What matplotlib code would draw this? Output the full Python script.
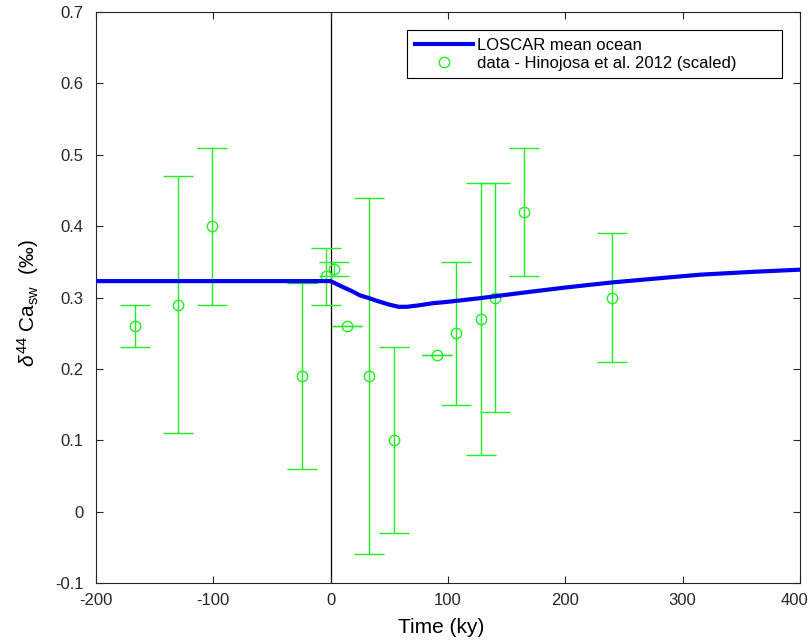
import matplotlib
matplotlib.use("Agg")
import matplotlib.pyplot as plt
import matplotlib.transforms as mtransforms
from matplotlib.lines import Line2D

plt.rcParams['font.family'] = ['Liberation Sans', 'DejaVu Sans']
plt.rcParams['axes.unicode_minus'] = False
plt.rcParams['mathtext.fontset'] = 'custom'
plt.rcParams['mathtext.rm'] = 'Liberation Sans'
plt.rcParams['mathtext.it'] = 'Liberation Sans:italic'

# LOSCAR mean ocean
model_t = [-200, -100, 0, 5, 10, 18, 25, 33, 40, 50, 58, 65, 75, 87, 100, 127, 165, 200, 239, 280, 315, 360, 400]
model_d44 = [0.323, 0.323, 0.323, 0.319, 0.315, 0.309, 0.303, 0.299, 0.295, 0.290, 0.287, 0.287, 0.289, 0.292, 0.294, 0.299, 0.307, 0.314, 0.321, 0.327, 0.332, 0.336, 0.339]

# Hinojosa et al. 2012 data (scaled)
data_t = [-167, -130, -101, -24, -4, 3, 14, 33, 54, 91, 107, 128, 140, 165, 240]
data_d44 = [0.26, 0.29, 0.40, 0.19, 0.33, 0.34, 0.26, 0.19, 0.10, 0.22, 0.25, 0.27, 0.30, 0.42, 0.30]
data_lo = [0.23, 0.11, 0.29, 0.06, 0.29, 0.33, 0.26, -0.06, -0.03, 0.22, 0.15, 0.08, 0.14, 0.33, 0.21]
data_hi = [0.29, 0.47, 0.51, 0.32, 0.37, 0.35, 0.26, 0.44, 0.23, 0.22, 0.35, 0.46, 0.46, 0.51, 0.39]

err_low = [d - lo for d, lo in zip(data_d44, data_lo)]
err_high = [hi - d for d, hi in zip(data_d44, data_hi)]

green = '#22ee22'

fig = plt.figure(figsize=(8.12, 6.43), dpi=100)
ax = fig.add_axes([0.1182, 0.0933, 0.867, 0.888])

ax.plot(model_t, model_d44, color='#0000f0', lw=3, label='LOSCAR mean ocean', zorder=3)
ax.errorbar(data_t, data_d44, yerr=[err_low, err_high], fmt='o', color=green,
            mfc='none', mec=green, ms=7.5, mew=1.0, elinewidth=1.0,
            capsize=11, capthick=1.0, zorder=2)
ax.axvline(0, color='black', lw=0.9, zorder=1)

ax.set_xlim(-200, 400)
ax.set_ylim(-0.1, 0.7)
ax.set_xticks([-200, -100, 0, 100, 200, 300, 400])
ax.set_yticks([-0.1, 0, 0.1, 0.2, 0.3, 0.4, 0.5, 0.6, 0.7])
ax.set_yticklabels(['-0.1', '0', '0.1', '0.2', '0.3', '0.4', '0.5', '0.6', '0.7'])
ax.tick_params(direction='in', top=True, right=True, labelsize=12, length=5, width=0.8,
               colors='#262626')
ax.tick_params(axis='y', pad=9)
ax.tick_params(axis='x', pad=7)
for s in ax.spines.values():
    s.set_color('#262626')
    s.set_linewidth(0.8)

# keep the last x label inside the figure edge
last = ax.get_xticklabels()[-1]
last.set_transform(last.get_transform() + mtransforms.ScaledTranslation(-4 / 72, 0, fig.dpi_scale_trans))

ax.set_xlabel('Time (ky)', fontsize=15)
ax.xaxis.set_label_coords(0.49, -0.062)
ax.set_ylabel(r'$\mathit{\delta}^{44}$ Ca$_{\mathrm{sw}}$  (‰)', fontsize=15)
ax.yaxis.set_label_coords(-0.078, 0.49)

handles = [Line2D([], [], color='#0000f0', lw=3),
           Line2D([], [], ls='none', marker='o', mfc='none', mec=green, ms=7.5, mew=1.0)]
labels = ['LOSCAR mean ocean', 'data - Hinojosa et al. 2012 (scaled)']
leg = ax.legend(handles, labels, loc='upper left', bbox_to_anchor=(0.4418, 0.8844, 0.5327, 0.0841),
                mode='expand', borderaxespad=0, fancybox=False, framealpha=1, edgecolor='black',
                fontsize=12, handlelength=3.5, borderpad=0.45, labelspacing=0.2,
                handletextpad=0.25)
leg.get_frame().set_linewidth(0.8)

fig.savefig('out.png', dpi=100)
